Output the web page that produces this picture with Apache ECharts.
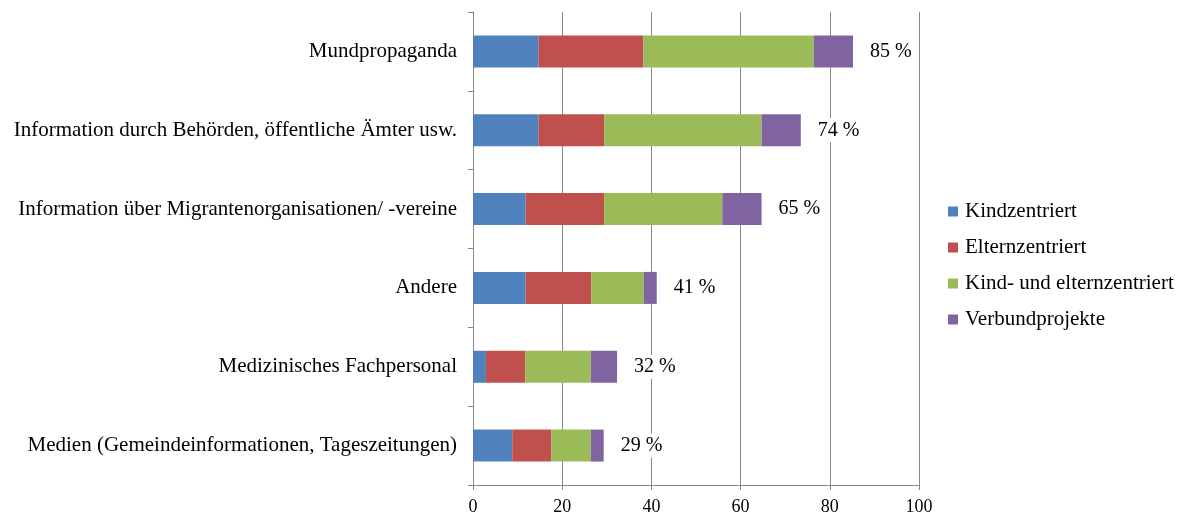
<!DOCTYPE html>
<html>
<head>
<meta charset="utf-8">
<script src="https://cdn.jsdelivr.net/npm/echarts@6/dist/echarts.min.js"></script>
<style>
  html, body { margin: 0; padding: 0; background: #fff; }
  #chart { width: 1182px; height: 517px; }
</style>
</head>
<body>
<div id="chart"></div>
<script>
const categories = [
  "Mundpropaganda",
  "Information durch Behörden, öffentliche Ämter usw.",
  "Information über Migrantenorganisationen/ -vereine",
  "Andere",
  "Medizinisches Fachpersonal",
  "Medien (Gemeindeinformationen, Tageszeitungen)"
];
const seriesNames = ["Kindzentriert", "Elternzentriert", "Kind- und elternzentriert", "Verbundprojekte"];
const kindzentriert = [14.7, 14.7, 11.8, 11.8, 2.9, 8.8];
const elternzentriert = [23.5, 14.7, 17.6, 14.7, 8.8, 8.8];
const kindUndEltern = [38.2, 35.3, 26.5, 11.8, 14.7, 8.8];
const verbund = [8.8, 8.8, 8.8, 2.9, 5.9, 2.9];
const totals = [85, 74, 65, 41, 32, 29];
const xTicks = [0, 20, 40, 60, 80, 100];

const colors = ["#4F81BD", "#C0504D", "#9BBB59", "#8064A2"];
const font = "Liberation Serif";

const chart = echarts.init(document.getElementById("chart"));

function barSeries(name, data, withLabel) {
  const s = {
    type: "bar",
    name: name,
    stack: "total",
    barWidth: 32,
    data: data,
    animation: false
  };
  if (withLabel) {
    // Gesamtwert rechts neben dem Balken
    s.label = {
      show: true,
      position: "right",
      distance: 13,
      formatter: (p) => totals[p.dataIndex] + " %",
      color: "#000",
      fontFamily: font,
      fontSize: 20,
      backgroundColor: "#fff",
      padding: [2, 4]
    };
  }
  return s;
}

chart.setOption({
  color: colors,
  animation: false,
  grid: {
    left: 473,
    right: 263,
    top: 12,
    bottom: 32
  },
  legend: {
    orient: "vertical",
    left: 943,
    top: 196,
    itemWidth: 10,
    itemHeight: 10,
    itemGap: 15,
    icon: "rect",
    data: seriesNames,
    textStyle: {
      fontFamily: font,
      fontSize: 21,
      color: "#000",
      padding: [0, 0, 0, 2]
    }
  },
  xAxis: {
    type: "value",
    min: 0,
    max: 100,
    interval: 20,
    axisLine: { show: true, lineStyle: { color: "#888" } },
    axisTick: { show: true, length: 5, lineStyle: { color: "#888" } },
    splitLine: { show: true, lineStyle: { color: "#888", width: 1 } },
    axisLabel: {
      color: "#000",
      fontFamily: font,
      fontSize: 18,
      margin: 13,
      formatter: (v) => xTicks.includes(v) ? String(v) : ""
    }
  },
  yAxis: {
    type: "category",
    data: categories,
    inverse: true,
    axisLine: { show: true, lineStyle: { color: "#888" } },
    axisTick: { show: true, length: 5, alignWithLabel: false, lineStyle: { color: "#888" } },
    splitLine: { show: false },
    axisLabel: {
      color: "#000",
      fontFamily: font,
      fontSize: 21,
      margin: 16
    }
  },
  series: [
    barSeries(seriesNames[0], kindzentriert),
    barSeries(seriesNames[1], elternzentriert),
    barSeries(seriesNames[2], kindUndEltern),
    barSeries(seriesNames[3], verbund, true)
  ]
});
</script>
</body>
</html>
